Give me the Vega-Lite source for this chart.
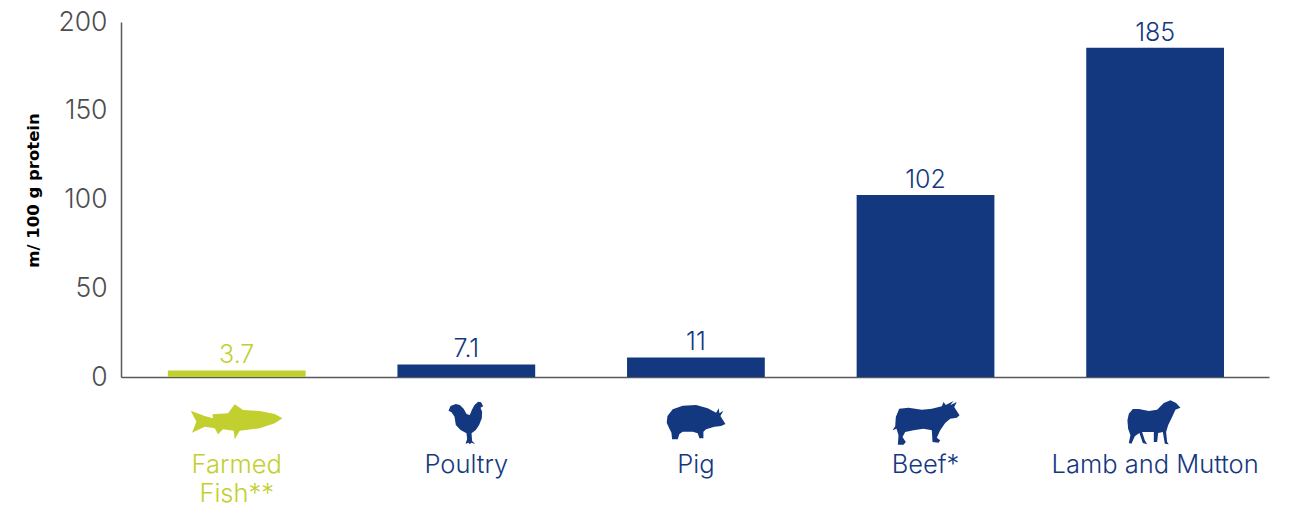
{"$schema":"https://vega.github.io/schema/vega-lite/v6.json","autosize":"none","width":1148,"height":355,"padding":{"left":121,"top":22,"right":20,"bottom":131},"background":"white","data":{"values":[{"category":"Farmed Fish**","value":3.7,"label":"3.7"},{"category":"Poultry","value":7.1,"label":"7.1"},{"category":"Pig","value":11,"label":"11"},{"category":"Beef*","value":102.5,"label":"102"},{"category":"Lamb and Mutton","value":185.5,"label":"185"}]},"encoding":{"x":{"field":"category","type":"nominal","sort":null,"scale":{"domain":["Farmed Fish**","Poultry","Pig","Beef*","Lamb and Mutton"],"paddingInner":0.4,"paddingOuter":0.2,"align":0.51},"axis":{"title":null,"labelAngle":0,"labelPadding":75,"labelBaseline":"top","labelFont":"Inter","labelFontWeight":300,"labelFontSize":25.5,"labelLineHeight":29,"labelLimit":400,"labelOverlap":false,"labelFlush":false,"ticks":false,"domainColor":"#58595b","domainWidth":1.5,"grid":false,"labelExpr":"datum.value == 'Farmed Fish**' ? ['Farmed','Fish**'] : datum.value","labelColor":{"condition":{"test":"datum.value == 'Farmed Fish**'","value":"#c2d02f"},"value":"#14387f"}}},"color":{"field":"category","type":"nominal","sort":null,"legend":null,"scale":{"domain":["Farmed Fish**","Poultry","Pig","Beef*","Lamb and Mutton"],"range":["#c2d02f","#14387f","#14387f","#14387f","#14387f"]}}},"layer":[{"mark":{"type":"bar"},"encoding":{"y":{"field":"value","type":"quantitative","scale":{"domain":[0,200],"nice":false},"axis":{"title":"m/ 100 g protein","titleFont":"DejaVu Sans","titleFontWeight":"bold","titleFontSize":16.5,"titleColor":"#000000","titleX":-80,"titleY":168,"values":[0,50,100,150,200],"labelFont":"Inter","labelFontWeight":300,"labelFontSize":26.5,"labelColor":"#4d4d4f","labelPadding":14,"ticks":false,"grid":false,"domainColor":"#58595b","domainWidth":1.5}}}},{"mark":{"type":"text","baseline":"bottom","dy":-2,"font":"Inter","fontWeight":300,"fontSize":25},"encoding":{"y":{"field":"value","type":"quantitative"},"text":{"field":"label"}}},{"mark":{"type":"point","filled":true,"opacity":1,"strokeWidth":0,"size":4,"yOffset":45,"clip":false},"encoding":{"y":{"datum":0},"shape":{"field":"category","type":"nominal","sort":null,"legend":null,"scale":{"domain":["Farmed Fish**","Poultry","Pig","Beef*","Lamb and Mutton"],"range":["M-46 -11.3L-32 -6L-23.7 -3.7L-24.3 -7.7L-8.7 -8.7L-2 -17.7L6.3 -12L23 -11L38 -8L45.7 -3.7L38 1.3L23 6.3L3 8.7L-2 17.3L-3 8.7L-13.7 7.3L-18.7 12.3L-22 6.3L-32 4.7L-44.7 10.7L-40.3 -0.3Z","M-17.8 -11.3L-15.8 -16L-10.5 -18L-6.5 -17L-2.5 -13L0.2 -8L3.5 -7L5.5 -12L8.2 -17L11.8 -20.3L14.8 -19.7L16.8 -15.7L14.2 -14.3L15.8 -10.3L15.5 -3.7L12.8 3L9.5 8L5.2 11.3L5.8 19L8.8 22L5.2 20.7L3.5 22L1.8 20.7L-0.8 22L0.8 17L0.2 11.3L-5.8 8L-10.5 3L-11.8 -5.3L-14.8 -9.7Z","M-29.2 0.7L-28.5 -6L-23.2 -12.7L-13.2 -16.3L0.2 -17L11.8 -13.7L20.2 -9.3L22.8 -13.7L23.5 -8.7L27.5 -11.3L24.5 -6L29.5 2L25.2 4L18.5 4.7L10.2 7.3L7.5 9.7L7.5 16.3L3.5 16.3L1.8 11.3L-3.2 9.7L-13.2 9.7L-16.5 12L-18.2 17.3L-23.8 17.3L-24.5 10.7L-27.2 5.3Z","M-26.3 -13.3L-17 -14.3L-3.7 -12.3L6.3 -13.3L16.3 -15.7L18 -20L20.3 -17L28 -21L24.7 -16.7L31.3 -20L28.7 -15L34 -6.7L31.3 -4.3L24.7 -3.3L19.7 1L14.7 8.3L11.3 15.7L14.7 18.3L13 20.7L7 20L6.3 8.3L-2 6.7L-12 8.3L-20.3 10L-23 15L-19.7 20L-22 22.7L-27.7 22.7L-27 13.3L-29 6.7L-33 8.3L-30.3 4.3L-29.7 -5Z","M-27.7 -1.7L-26.3 -8.3L-22.3 -13L-16.3 -13L-6.3 -11L2 -12.3L8.7 -19L15.3 -21.7L21 -19L25.3 -14.3L20.3 -12.3L17 -5L13 3.3L11 10L12 20L13.7 22.3L9.7 21.7L7.7 10L3 11L2 20L-1.3 20L-1.3 10L-13 10L-10.3 18.3L-8 22.3L-12.3 21L-15.7 11L-20.3 14.3L-23.7 21.7L-26.3 21L-24.7 13.3L-27 6.7Z"]}}}}],"config":{"view":{"stroke":null}}}
